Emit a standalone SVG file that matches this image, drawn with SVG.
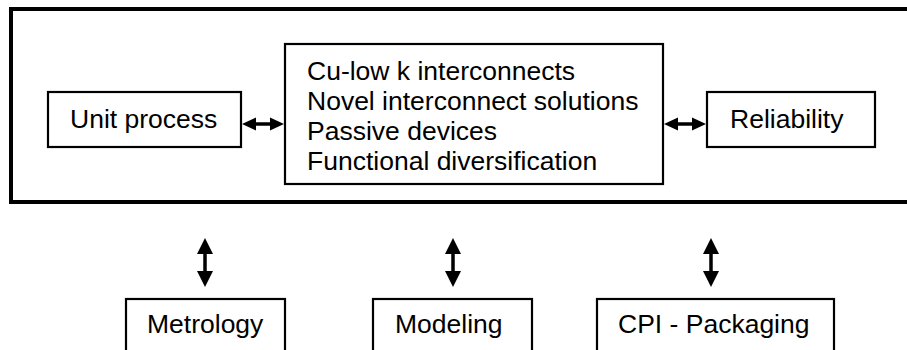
<svg xmlns="http://www.w3.org/2000/svg" width="907" height="350" viewBox="0 0 907 350">
  <style>
    .box { fill: #ffffff; stroke: #000000; stroke-width: 2.2; }
    .frame { fill: none; stroke: #000000; stroke-width: 4; }
    .lbl { font-family: "Liberation Sans", Arial, sans-serif; font-size: 26.5px; fill: #000000; }
    .shaft { stroke: #000000; stroke-width: 3.5; fill: none; }
    .head { fill: #000000; stroke: none; }
  </style>
  <rect width="907" height="350" fill="#ffffff"/>

  <!-- enclosing frame (runs off the right edge) -->
  <rect class="frame" x="11" y="9" width="910" height="193"/>

  <g id="unit-process">
    <rect class="box" x="48" y="92" width="193" height="55"/>
    <text class="lbl" x="70" y="128">Unit process</text>
  </g>

  <g id="interconnects">
    <rect class="box" x="285" y="44" width="378" height="140"/>
    <text class="lbl" x="307" y="80">Cu-low k interconnects</text>
    <text class="lbl" x="307" y="110">Novel interconnect solutions</text>
    <text class="lbl" x="307" y="140">Passive devices</text>
    <text class="lbl" x="307" y="170">Functional diversification</text>
  </g>

  <g id="reliability">
    <rect class="box" x="707" y="92" width="168" height="55"/>
    <text class="lbl" x="730" y="128">Reliability</text>
  </g>

  <g id="metrology">
    <rect class="box" x="126" y="299" width="159" height="60"/>
    <text class="lbl" x="147" y="333">Metrology</text>
  </g>

  <g id="modeling">
    <rect class="box" x="373" y="299" width="159" height="60"/>
    <text class="lbl" x="395" y="333">Modeling</text>
  </g>

  <g id="cpi-packaging">
    <rect class="box" x="597" y="299" width="237" height="60"/>
    <text class="lbl" x="618" y="333">CPI - Packaging</text>
  </g>

  <g id="connectors">
    <!-- horizontal double arrows -->
    <line class="shaft" x1="252" y1="124" x2="274" y2="124"/>
    <polygon class="head" points="242,124 256,117.5 256,130.5"/>
    <polygon class="head" points="284,124 270,117.5 270,130.5"/>

    <line class="shaft" x1="674" y1="124" x2="696" y2="124"/>
    <polygon class="head" points="664,124 678,117.5 678,130.5"/>
    <polygon class="head" points="706,124 692,117.5 692,130.5"/>

    <!-- vertical double arrows -->
    <line class="shaft" x1="205" y1="250" x2="205" y2="276"/>
    <polygon class="head" points="205,238 197,254 213,254"/>
    <polygon class="head" points="205,287 197,271 213,271"/>

    <line class="shaft" x1="453" y1="250" x2="453" y2="276"/>
    <polygon class="head" points="453,238 445,254 461,254"/>
    <polygon class="head" points="453,287 445,271 461,271"/>

    <line class="shaft" x1="711" y1="250" x2="711" y2="276"/>
    <polygon class="head" points="711,238 703,254 719,254"/>
    <polygon class="head" points="711,287 703,271 719,271"/>
  </g>
</svg>
